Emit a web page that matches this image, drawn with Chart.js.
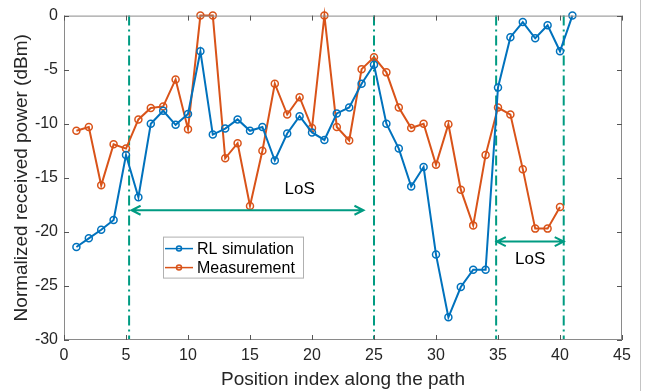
<!DOCTYPE html>
<html>
<head>
<meta charset="utf-8">
<script src="https://cdn.jsdelivr.net/npm/chart.js@4/dist/chart.umd.min.js"></script>
<style>
html, body { margin: 0; padding: 0; background: #fff; }
</style>
</head>
<body>
<canvas id="power-chart" width="649" height="391"></canvas>
<script>
// position index along the path
const positions = [1, 2, 3, 4, 5, 6, 7, 8, 9, 10, 11, 12, 13, 14, 15, 16, 17, 18, 19, 20,
    21, 22, 23, 24, 25, 26, 27, 28, 29, 30, 31, 32, 33, 34, 35, 36, 37, 38, 39, 40, 41];

// normalized received power (dBm)
const rlSimulation = [-21.4, -20.6, -19.8, -18.9, -12.9, -16.8, -10.0, -8.8, -10.1, -9.1,
    -3.3, -11.0, -10.45, -9.6, -10.65, -10.3, -13.4, -10.9, -9.3, -10.8,
    -11.5, -9.05, -8.5, -6.3, -4.55, -10.0, -12.3, -15.8, -14.0, -22.1,
    -27.9, -25.1, -23.5, -23.5, -6.65, -2.0, -0.6, -2.1, -0.9, -3.3, 0];
const measurement = [-10.65, -10.3, -15.7, -11.9, -12.3, -9.6, -8.55, -8.4, -5.9, -10.5,
    0, 0, -13.2, -11.8, -17.6, -12.5, -6.3, -9.15, -7.55, -10.4,
    0, -10.3, -11.55, -4.95, -3.85, -5.25, -8.5, -10.4, -10.0, -13.8,
    -10.05, -16.1, -19.4, -12.9, -8.5, -9.15, -14.2, -19.7, -19.7, -17.7];

// LoS region markers
const losBoundaries = [5.25, 25, 34.85, 40.3];
const losArrows = [
    { from: 5.45, to: 24.15, y: -18.0 },
    { from: 34.9, to: 40.3, y: -20.9 }
];
const losLabels = [
    { text: 'LoS', x: 19, y: -16.1 },
    { text: 'LoS', x: 37.6, y: -22.5 }
];

const blue = '#0072BD';
const orange = '#D95319';
const teal = '#009B82';
const fontFamily = '"Liberation Sans", Arial, Helvetica, sans-serif';

function toPoints(values) {
    return values.map((v, i) => ({ x: positions[i], y: v }));
}

// draws the dash-dot LoS lines, arrows, labels, box with inward ticks and the legend
const decorations = {
    id: 'decorations',
    beforeDatasetsDraw(chart) {
        const { ctx, chartArea, scales: { x } } = chart;
        ctx.save();
        ctx.strokeStyle = teal;
        ctx.lineWidth = 2;
        ctx.setLineDash([10, 4, 2, 4]);
        losBoundaries.forEach(v => {
            const px = x.getPixelForValue(v);
            ctx.beginPath();
            ctx.moveTo(px, chartArea.top);
            ctx.lineTo(px, chartArea.bottom);
            ctx.stroke();
        });
        ctx.restore();
    },
    afterDatasetsDraw(chart) {
        const { ctx, chartArea, scales: { x, y } } = chart;
        ctx.save();

        // arrows
        ctx.strokeStyle = teal;
        ctx.lineWidth = 2;
        losArrows.forEach(a => {
            const x1 = x.getPixelForValue(a.from);
            const x2 = x.getPixelForValue(a.to);
            const py = y.getPixelForValue(a.y);
            ctx.beginPath();
            ctx.moveTo(x1, py);
            ctx.lineTo(x2, py);
            ctx.moveTo(x1 + 9, py - 4.5);
            ctx.lineTo(x1, py);
            ctx.lineTo(x1 + 9, py + 4.5);
            ctx.moveTo(x2 - 9, py - 4.5);
            ctx.lineTo(x2, py);
            ctx.lineTo(x2 - 9, py + 4.5);
            ctx.stroke();
        });

        ctx.fillStyle = '#000';
        ctx.font = '17px ' + fontFamily;
        ctx.textAlign = 'center';
        ctx.textBaseline = 'middle';
        losLabels.forEach(l => {
            ctx.fillText(l.text, x.getPixelForValue(l.x), y.getPixelForValue(l.y));
        });

        // axes box
        ctx.strokeStyle = '#8a8a8a';
        ctx.lineWidth = 1;
        ctx.strokeRect(chartArea.left + 0.5, chartArea.top + 0.5,
            chartArea.right - chartArea.left - 1, chartArea.bottom - chartArea.top - 1);

        // inward ticks
        ctx.strokeStyle = '#555';
        ctx.beginPath();
        x.ticks.forEach(t => {
            const px = Math.round(x.getPixelForValue(t.value)) + 0.5;
            ctx.moveTo(px, chartArea.bottom);
            ctx.lineTo(px, chartArea.bottom - 5);
            ctx.moveTo(px, chartArea.top);
            ctx.lineTo(px, chartArea.top + 5);
        });
        y.ticks.forEach(t => {
            const py = Math.round(y.getPixelForValue(t.value)) + 0.5;
            ctx.moveTo(chartArea.left, py);
            ctx.lineTo(chartArea.left + 5, py);
            ctx.moveTo(chartArea.right, py);
            ctx.lineTo(chartArea.right - 5, py);
        });
        ctx.stroke();

        // figure edge line on the right
        ctx.strokeStyle = '#c4c4c4';
        ctx.beginPath();
        ctx.moveTo(chart.width - 8.5, 0);
        ctx.lineTo(chart.width - 8.5, chart.height);
        ctx.stroke();

        // legend
        const lx = chartArea.left + 99;
        const ly = chartArea.top + 221;
        ctx.fillStyle = '#fff';
        ctx.fillRect(lx, ly, 141, 42);
        ctx.strokeStyle = '#b0b0b0';
        ctx.strokeRect(lx + 0.5, ly + 0.5, 140, 41);
        ctx.font = '16px ' + fontFamily;
        ctx.textAlign = 'left';
        chart.data.datasets.forEach((ds, i) => {
            const ry = ly + 12 + i * 19;
            ctx.strokeStyle = ds.borderColor;
            ctx.lineWidth = 1.5;
            ctx.beginPath();
            ctx.moveTo(lx + 2, ry);
            ctx.lineTo(lx + 30, ry);
            ctx.stroke();
            ctx.beginPath();
            ctx.arc(lx + 16, ry, 2.5, 0, Math.PI * 2);
            ctx.stroke();
            ctx.fillStyle = '#000';
            ctx.fillText(ds.label, lx + 34, ry + 1);
        });
        ctx.restore();
    }
};

const ctx = document.getElementById('power-chart').getContext('2d');

const config = {
    type: 'line',
    data: {
        datasets: [
            {
                label: 'RL simulation',
                data: toPoints(rlSimulation),
                borderColor: blue,
                backgroundColor: blue,
                borderWidth: 2,
                pointRadius: 3.5,
                pointBorderWidth: 1.5,
                pointBackgroundColor: 'rgba(0,0,0,0)',
                pointBorderColor: blue,
                clip: false
            },
            {
                label: 'Measurement',
                data: toPoints(measurement),
                borderColor: orange,
                backgroundColor: orange,
                borderWidth: 2,
                pointRadius: 3.5,
                pointBorderWidth: 1.5,
                pointBackgroundColor: 'rgba(0,0,0,0)',
                pointBorderColor: orange,
                clip: false
            }
        ]
    },
    options: {
        responsive: false,
        animation: false,
        layout: {
            padding: { top: 12, right: 27, left: 0, bottom: 0 }
        },
        plugins: {
            legend: { display: false },
            tooltip: { enabled: false }
        },
        scales: {
            x: {
                type: 'linear',
                min: 0,
                max: 45,
                ticks: {
                    stepSize: 5,
                    padding: 6,
                    color: '#262626',
                    font: { family: fontFamily, size: 16 }
                },
                grid: { display: false, drawTicks: false },
                border: { display: false },
                title: {
                    display: true,
                    text: 'Position index along the path',
                    color: '#262626',
                    font: { family: fontFamily, size: 19 },
                    padding: { top: 3, bottom: 0 }
                },
                afterFit(scale) { scale.height = 51; }
            },
            y: {
                min: -30,
                max: 0,
                ticks: {
                    stepSize: 5,
                    padding: 6,
                    color: '#262626',
                    font: { family: fontFamily, size: 16 }
                },
                grid: { display: false, drawTicks: false },
                border: { display: false },
                title: {
                    display: true,
                    text: 'Normalized received power (dBm)',
                    color: '#262626',
                    font: { family: fontFamily, size: 19 },
                    padding: { top: 10, bottom: 0 }
                },
                afterFit(scale) { scale.width = 64; }
            }
        }
    },
    plugins: [decorations]
};

const powerChart = new Chart(ctx, config);
</script>
</body>
</html>
